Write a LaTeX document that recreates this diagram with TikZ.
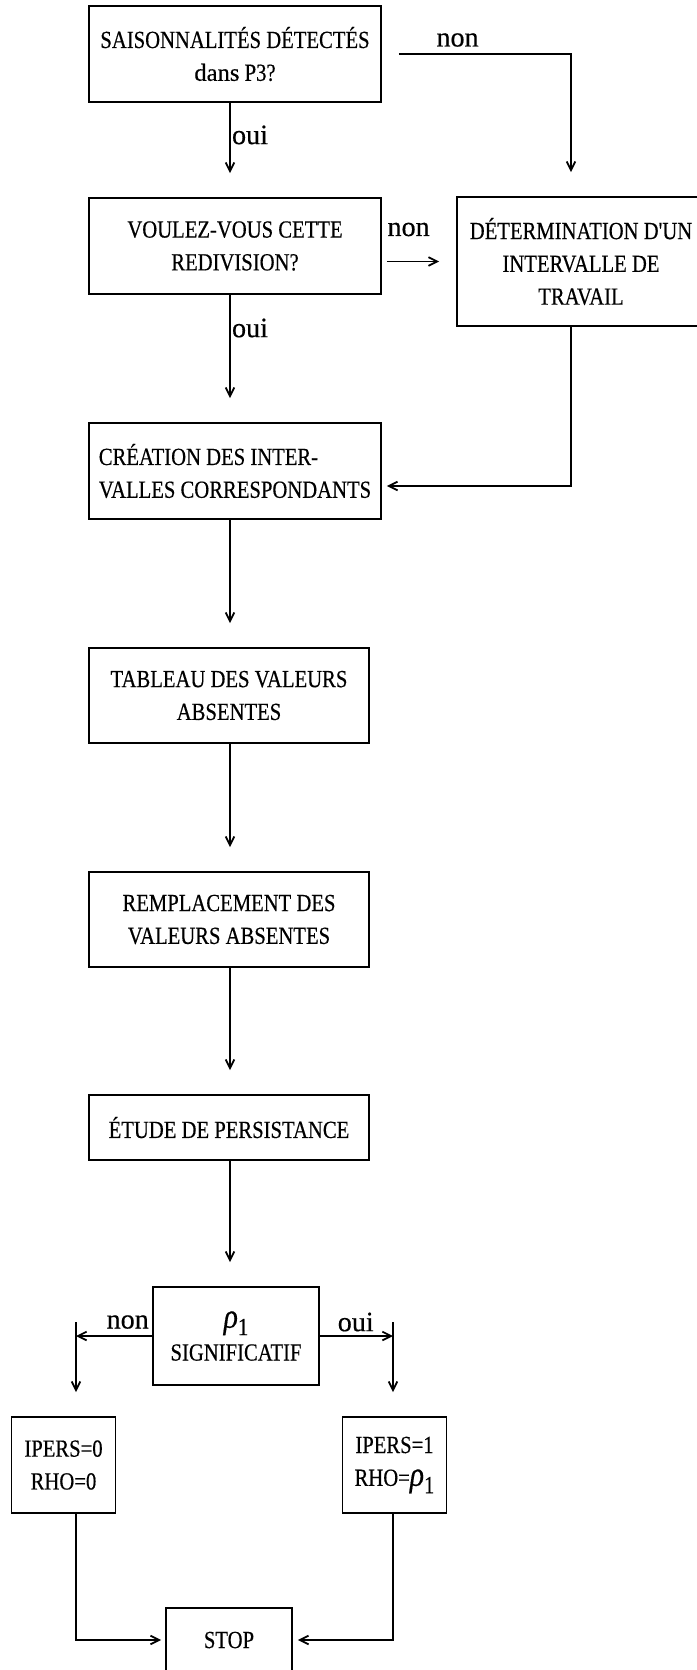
\documentclass[tikz,border=0pt]{standalone}
\usepackage{fontspec}
\usepackage{tikz}
\usetikzlibrary{arrows.meta, positioning}
\newfontfamily\typfont[FakeStretch=0.84, FakeBold=0.4]{Liberation Serif}
\newfontfamily\labfont[FakeBold=0.4]{Liberation Serif}
\newcommand{\rhoone}{{\fontsize{30pt}{28pt}\selectfont\itshape ρ}\raisebox{-0.3em}{1}}
\tikzset{
  flowbox/.style={draw, line width=1.6pt, inner sep=0pt, align=center, font=\typfont\fontsize{21pt}{28pt}\selectfont},
  widebox/.style={flowbox, minimum width=8.76cm, minimum height=2.88cm},
  midbox/.style={flowbox, minimum width=8.4cm, minimum height=2.85cm},
  smallbox/.style={flowbox, minimum width=3.12cm, minimum height=2.88cm},
  flowarrow/.style={-{Straight Barb[length=2.6mm, width=2.6mm]}, line width=1.5pt},
  gaparrow/.style={flowarrow, shorten >=0.72cm},
  answer/.style={inner sep=1pt, font=\labfont\fontsize{24pt}{28pt}\selectfont}
}

\begin{document}
\begin{tikzpicture}[x=0.03cm, y=-0.03cm]
    \useasboundingbox (0,0) rectangle (697,1670);
    \clip (0,0) rectangle (697,1670);
    \coordinate (col) at (230,0);
    \coordinate (colT) at (571,0);
    \coordinate (colL) at (76,0);
    \coordinate (colR) at (393,0);

    \node (box1) [widebox] at (235,54) {SAISONNALITÉS DÉTECTÉS\\{\labfont dans} P3?};
    \node (box2) [widebox] at (235,246) {VOULEZ-VOUS CETTE\\REDIVISION?};
    \node (box3) [flowbox, minimum width=7.44cm, minimum height=3.87cm] at (581,261.5) {DÉTERMINATION D'UN\\INTERVALLE DE\\TRAVAIL};
    \node (box4) [widebox, align=left] at (235,471) {CRÉATION DES INTER-\\VALLES CORRESPONDANTS};
    \node (box5) [midbox] at (229,695.5) {TABLEAU DES VALEURS\\ABSENTES};
    \node (box6) [midbox] at (229,919.5) {REMPLACEMENT DES\\VALEURS ABSENTES};
    \node (box7) [midbox, minimum height=1.95cm] at (229,1127.5) {ÉTUDE DE PERSISTANCE};
    \node (rho) [flowbox, minimum width=4.98cm, minimum height=2.94cm] at (236,1336) {\rhoone\\SIGNIFICATIF};
    \node (ipers0) [smallbox] at (63.5,1465) {IPERS=0\\RHO=0};
    \node (ipers1) [smallbox] at (394.5,1465) {IPERS=1\\RHO=\rhoone};
    \node (stop) [flowbox, minimum width=3.78cm, minimum height=1.92cm] at (229,1640) {STOP};

    % main column
    \draw[gaparrow] (box1.south -| col) -- (box2.north -| col) node[answer, anchor=west, pos=0.34] {oui};
    \draw[gaparrow] (box2.south -| col) -- (box4.north -| col) node[answer, anchor=west, pos=0.26] {oui};
    \draw[gaparrow] (box4.south -| col) -- (box5.north -| col);
    \draw[gaparrow] (box5.south -| col) -- (box6.north -| col);
    \draw[gaparrow] (box6.south -| col) -- (box7.north -| col);
    \draw[gaparrow] (box7.south -| col) -- (rho.north -| col);

    % the non branches
    \draw[gaparrow, shorten <=0.51cm] (box1.east) -| (box3.north -| colT) node[answer, pos=0.2, yshift=0.42cm] {non};
    \draw[flowarrow, shorten <=0.15cm, shorten >=0.51cm] (box2.east |- box3.west) -- (box3.west) node[answer, pos=0.36, yshift=0.96cm] {non};
    \draw[flowarrow, shorten >=0.15cm] (box3.south -| colT) |- ([yshift=-0.45cm]box4.east);

    % rho test
    \draw[flowarrow] (rho.west) -- (rho.west -| colL) node[answer, pos=0.32, yshift=0.42cm] {non};
    \draw[gaparrow] ([yshift=0.42cm]rho.west -| colL) -- (ipers0.north -| colL);
    \draw[flowarrow] (rho.east) -- (rho.east -| colR) node[answer, pos=0.49, yshift=0.42cm] {oui};
    \draw[gaparrow] ([yshift=0.42cm]rho.east -| colR) -- (ipers1.north -| colR);
    \draw[flowarrow, shorten >=0.12cm] (ipers0.south -| colL) |- (stop.west);
    \draw[flowarrow, shorten >=0.15cm] (ipers1.south -| colR) |- (stop.east);
\end{tikzpicture}
\end{document}
